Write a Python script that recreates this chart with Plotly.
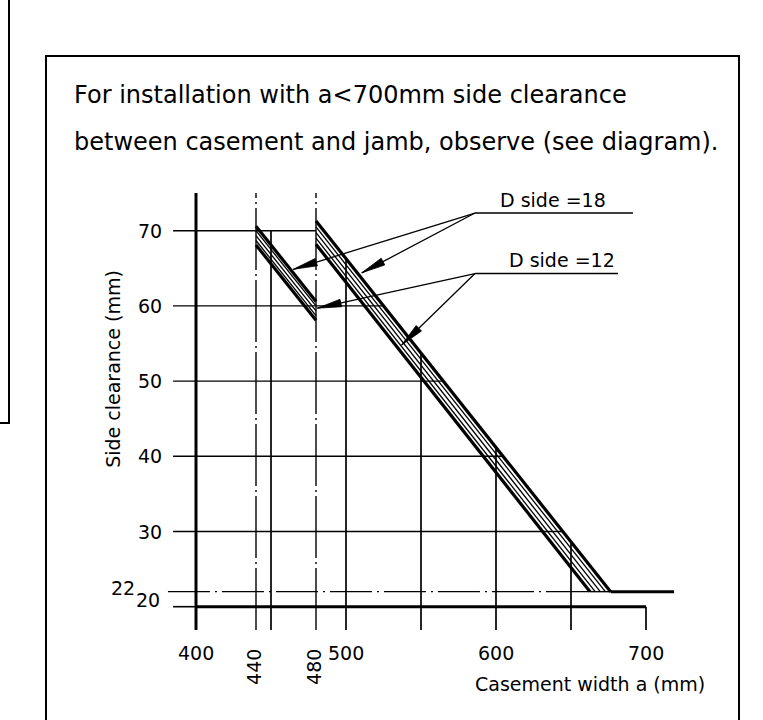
import numpy as np
import plotly.graph_objects as go

# ---------------- data ----------------
title_lines = ["For installation with a<700mm side clearance",
               "between casement and jamb, observe (see diagram)."]
x_label = "Casement width a (mm)"
y_label = "Side clearance (mm)"

x_tick_vals = [400, 500, 600, 700]
x_tick_text = ["400", "500", "600", "700"]
x_rot_vals = [440, 480]
x_rot_text = ["440", "480"]
y_tick_vals = [30, 40, 50, 60, 70]
y_tick_text = ["30", "40", "50", "60", "70"]
y_ref_text = ["22", "20"]

# horizontal grid lines (value) and where they stop (a, mm)
h_grid_vals = [30, 40, 50, 60, 70]
h_grid_end = [644.6, 604.7, 564.9, 525.0, 480.0]
# vertical grid lines (a) and their top (value)
v_grid_vals = [450, 500, 550, 600, 650]
v_grid_top = [70.0, 66.3, 53.7, 41.2, 28.7]
centre_lines = [440, 480]
axis_a = 400
axis_top = 75.0
tick_bottom = 16.9
tick_left = 384.7
base_val = 20
base_end = 700
ref_val = 22
ref_start = 381.3
ref_dash_end = 662.7
ref_solid = [676.4, 718.7]

# left band: 5 parallel lines from a=440 to a=480
lb_a = [440, 480]
lb_start = [68.1, 68.7, 69.35, 70.0, 70.6]
lb_end = [58.1, 58.7, 59.35, 60.0, 60.6]
# right band: 5 parallel lines from a=480 down to value 22
rb_a0 = 480
rb_start = [68.2, 69.0, 69.75, 70.5, 71.3]
rb_end_a = [662.7, 666.1, 669.5, 672.9, 676.4]
band_w = [3.2, 1.3, 1.3, 1.3, 3.2]

# leaders
leader_labels = ["D side =18", "D side =12"]
shelf_val = [72.35, 64.3]
shelf_a = [[586, 691.3], [586, 681.3]]
label_a = [638.3, 644.3]
label_val = [74.1, 66.1]
tip_a = [[464.9, 510.5], [480.9, 537.1]]
tip_val = [[64.87, 64.4], [59.7, 54.8]]

# ---------------- scale: whole figure is the plotting area ----------------
W, H = 763, 720
PX0, A0, PPX = 196.0, 400.0, 1.5      # pixel of a=400, px per mm
PY0, V0, PPY = 230.7, 70.0, 7.52      # pixel of value 70, px per unit
x_range = [A0 - PX0 / PPX, A0 + (W - PX0) / PPX]
y_range = [V0 - (H - PY0) / PPY, V0 + PY0 / PPY]

FONT = "DejaVu Sans"
BLACK = "black"
DASHDOT_H = "42px,5px,2px,5px"
DASHDOT_V = "62px,4px,2px,4px"

fig = go.Figure()


def seg(xs, ys, width=1.4, dash="solid"):
    fig.add_trace(go.Scatter(x=xs, y=ys, mode="lines",
                             line=dict(color=BLACK, width=width, dash=dash),
                             hoverinfo="skip", showlegend=False))


# y ticks + horizontal grid lines
for v, e in zip(h_grid_vals, h_grid_end):
    seg([tick_left, e], [v, v])
# base line 20
seg([tick_left, axis_a], [base_val, base_val], width=1.6)
seg([axis_a, base_end], [base_val, base_val], width=3)
# 22 reference line
seg([ref_start, ref_dash_end], [ref_val, ref_val], dash=DASHDOT_H)
seg([ref_dash_end, ref_solid[0]], [ref_val, ref_val])
seg(ref_solid, [ref_val, ref_val], width=3)
# axis
seg([axis_a, axis_a], [tick_bottom, axis_top], width=3)
# centre lines
for a in centre_lines:
    seg([a, a], [tick_bottom, axis_top], dash=DASHDOT_V)
# vertical grid lines
for a, t in zip(v_grid_vals, v_grid_top):
    seg([a, a], [tick_bottom, t], width=1.7)
seg([base_end, base_end], [tick_bottom, base_val], width=1.7)

# bands
for s, e, w in zip(lb_start, lb_end, band_w):
    seg(lb_a, [s, e], width=w)
for s, e, w in zip(rb_start, rb_end_a, band_w):
    seg([rb_a0, e], [s, ref_val], width=w)

# leaders with long slim arrowheads
HEAD_L, HEAD_W = 24.0, 3.8
for i in range(2):
    sa = shelf_a[i]
    sv = shelf_val[i]
    seg(sa, [sv, sv], width=1.6)
    for ta, tv in zip(tip_a[i], tip_val[i]):
        seg([sa[0], ta], [sv, tv], width=1.3)
        # pixel-space direction
        ox, oy = (sa[0] - A0) * PPX, -(sv - V0) * PPY
        tx, ty = (ta - A0) * PPX, -(tv - V0) * PPY
        d = np.array([ox - tx, oy - ty])
        d /= np.hypot(*d)
        p = np.array([-d[1], d[0]])
        tip = np.array([tx, ty])
        base = tip + d * HEAD_L
        pts = [tip, base + p * HEAD_W, base - p * HEAD_W, tip]
        xs = [A0 + q[0] / PPX for q in pts]
        ys = [V0 - q[1] / PPY for q in pts]
        fig.add_trace(go.Scatter(x=xs, y=ys, mode="lines", fill="toself",
                                 fillcolor=BLACK, line=dict(color=BLACK, width=0.8),
                                 hoverinfo="skip", showlegend=False))
    fig.add_annotation(x=label_a[i], y=label_val[i], text=leader_labels[i],
                       showarrow=False, xanchor="center", yanchor="middle",
                       font=dict(family=FONT, size=19, color=BLACK))

# tick labels
for v, t in zip(y_tick_vals, y_tick_text):
    fig.add_annotation(x=378.5, y=v, text=t, showarrow=False, xanchor="right",
                       yanchor="middle", font=dict(family=FONT, size=19, color=BLACK))
fig.add_annotation(x=360.7, y=22.5, text=y_ref_text[0], showarrow=False, xanchor="right",
                   yanchor="middle", font=dict(family=FONT, size=19, color=BLACK))
fig.add_annotation(x=377.5, y=20.9, text=y_ref_text[1], showarrow=False, xanchor="right",
                   yanchor="middle", font=dict(family=FONT, size=19, color=BLACK))
for v, t in zip(x_tick_vals, x_tick_text):
    fig.add_annotation(x=v, y=13.84, text=t, showarrow=False, xanchor="center",
                       yanchor="middle", font=dict(family=FONT, size=19, color=BLACK))
for v, t in zip(x_rot_vals, x_rot_text):
    fig.add_annotation(x=v - 1.3, y=12.0, text=t, showarrow=False, textangle=-90,
                       xanchor="center", yanchor="middle",
                       font=dict(family=FONT, size=19, color=BLACK))
fig.add_annotation(x=740.7, y=9.72, text=x_label, showarrow=False, xanchor="right",
                   yanchor="middle", font=dict(family=FONT, size=19, color=BLACK))
fig.add_annotation(x=344.5, y=51.6, text=y_label, showarrow=False, textangle=-90,
                   xanchor="center", yanchor="middle",
                   font=dict(family=FONT, size=19, color=BLACK))

# title lines (paper coords)
for i, (t, py) in enumerate(zip(title_lines, [95, 142])):
    fig.add_annotation(xref="paper", yref="paper", x=72 / W, y=1 - py / H, text=t,
                       showarrow=False, xanchor="left", yanchor="middle",
                       font=dict(family=FONT, size=24, color=BLACK))

# frames
fig.add_shape(type="rect", xref="paper", yref="paper",
              x0=46 / W, x1=739 / W, y0=-0.05, y1=1 - 56 / H,
              line=dict(color=BLACK, width=2))
fig.add_shape(type="path", xref="paper", yref="paper",
              path=f"M {9/W},1.02 L {9/W},{1-423/H} L -0.02,{1-423/H}",
              line=dict(color=BLACK, width=2))

fig.update_layout(
    width=W, height=H, margin=dict(l=0, r=0, t=0, b=0),
    paper_bgcolor="white", plot_bgcolor="white",
    xaxis=dict(range=x_range, visible=False, fixedrange=True),
    yaxis=dict(range=y_range, visible=False, fixedrange=True),
    showlegend=False,
)

fig.write_html("out.html", config={"displayModeBar": False},
               post_script="document.body.style.margin='0';")
